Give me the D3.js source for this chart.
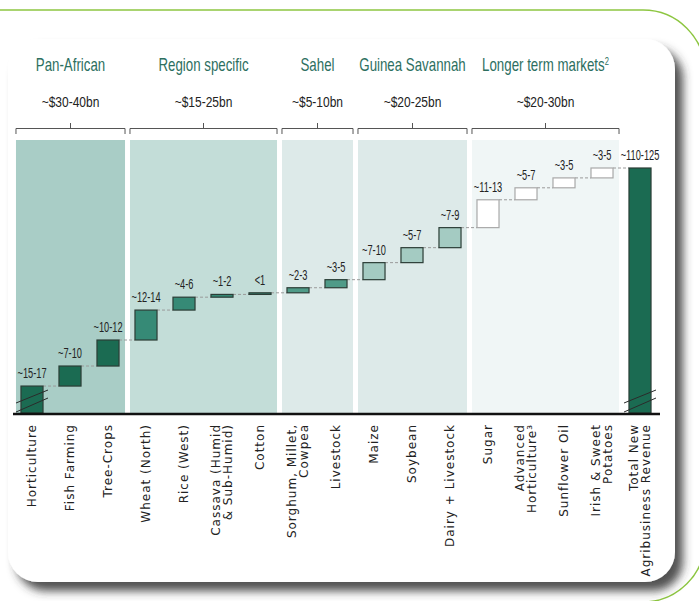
<!DOCTYPE html>
<html>
<head>
<meta charset="utf-8">
<script src="https://cdn.jsdelivr.net/npm/d3@7"></script>
<style>
body{margin:0;background:#fff;}
svg{display:block;}
</style>
</head>
<body>
<svg id="chart" width="699" height="601"></svg>
<script>
// categories, one entry per bar (multi-line labels split into lines)
var categories = [["Horticulture"],["Fish Farming"],["Tree-Crops"],["Wheat (North)"],["Rice (West)"],
  ["Cassava (Humid","& Sub-Humid)"],["Cotton"],["Sorghum, Millet,","Cowpea"],["Livestock"],["Maize"],["Soybean"],
  ["Dairy + Livestock"],["Sugar"],["Advanced","Horticulture³"],["Sunflower Oil"],["Irish & Sweet","Potatoes"],
  ["Total New","Agribusiness Revenue"]]

// increments of the waterfall ($bn); last bar is the total
var values = [16, 8.7, 11.3, 13, 5.6, 1.2, 0.7, 2.2, 3.5, 7.4, 6.5, 8.7, 12.1, 5.2, 4.3, 4.3]
var valueLabels = ["~15-17","~7-10","~10-12","~12-14","~4-6","~1-2","<1","~2-3","~3-5","~7-10","~5-7","~7-9",
  "~11-13","~5-7","~3-5","~3-5","~110-125"]
var axisBreakValue = 4.3   // axis is broken, the baseline sits at about this value

var groupNames = ["Pan-African","Region specific","Sahel","Guinea Savannah","Longer term markets"]
var groupTotals = ["~$30-40bn","~$15-25bn","~$5-10bn","~$20-25bn","~$20-30bn"]
var groupSizes = [3,4,2,3,4]

// styles per group
var panelFill = ["#a9cdc6","#c3ddd8","#ddeae9","#ddeae9","#f0f6f6"]
var barFill = ["#1b6b52","#368a76","#4f9b88","#a4cbc2","#ffffff"]
var barStroke = ["#2b3d36","#2b3d36","#2b3d36","#2b3d36","#a8a8a8"]

var svg = d3.select("#chart")
var baseY = 413

// running totals
var starts = [], ends = [], groupOf = []
var run = 0
values.forEach(function(v){ starts.push(run); run += v; ends.push(run) })
var total = run
groupSizes.forEach(function(n, g){ for (var k = 0; k < n; k++) groupOf.push(g) })

var x = d3.scaleBand().domain(d3.range(categories.length)).range([13, 659]).paddingInner(0.42).paddingOuter(0.21)
var y = d3.scaleLinear().domain([axisBreakValue, total]).range([baseY, 168])
var bw = x.bandwidth()

// shadow filter
var defs = svg.append("defs")
var f = defs.append("filter").attr("id","shadow").attr("x","-10%").attr("y","-10%").attr("width","130%").attr("height","130%")
f.append("feDropShadow").attr("dx",8).attr("dy",9).attr("stdDeviation",5).attr("flood-color","#333").attr("flood-opacity",0.85)

// green outline behind the card
svg.append("rect").attr("x",-100).attr("y",10).attr("width",805).attr("height",592).attr("rx",62)
  .style("fill","none").style("stroke","#8dc641").style("stroke-width",1.5)

// card
svg.append("rect").attr("x",8).attr("y",39).attr("width",667).attr("height",543).attr("rx",30)
  .style("fill","#fff").attr("filter","url(#shadow)")

// group extents
var groups = []
var idx = 0
groupSizes.forEach(function(n, g){
  groups.push({g: g, x0: x(idx) - 5, x1: x(idx + n - 1) + bw + 6})
  idx += n
})

svg.selectAll(".panel").data(groups).enter().append("rect")
  .attr("x", function(d){ return d.x0 })
  .attr("y", 140)
  .attr("width", function(d){ return d.x1 - d.x0 })
  .attr("height", baseY - 140)
  .style("fill", function(d){ return panelFill[d.g] })

// brackets
svg.selectAll(".bracket").data(groups).enter().append("path")
  .attr("d", function(d){
    var m = (d.x0 + d.x1) / 2
    return "M" + d.x0 + ",134V128.5H" + d.x1 + "V134M" + m + ",128.5V123"
  })
  .style("fill","none").style("stroke","#555").style("stroke-width",1)

function condensed(sel, cx, cy, size, sx, color){
  return sel.append("g").attr("transform","translate(" + cx + "," + cy + ") scale(" + sx + ",1)")
    .append("text").attr("text-anchor","middle")
    .style("font-family","Liberation Sans, Arial, sans-serif").style("font-size", size + "px").style("fill", color)
}

groups.forEach(function(d){
  var m = (d.x0 + d.x1) / 2
  var t = condensed(svg, m, 71, 17.5, 0.76, "#2d6f5f").text(groupNames[d.g])
  if (d.g == 4) t.append("tspan").attr("dy",-6).style("font-size","10px").text("2")
  condensed(svg, m, 107, 15, 0.8, "#222").text(groupTotals[d.g])
})

// connectors
var conn = d3.range(values.length)
svg.selectAll(".conn").data(conn).enter().append("line")
  .attr("x1", function(i){ return x(i) + bw })
  .attr("x2", function(i){ return x(i + 1) })
  .attr("y1", function(i){ return y(ends[i]) })
  .attr("y2", function(i){ return y(ends[i]) })
  .style("stroke","#9a9a9a").style("stroke-width",1).style("stroke-dasharray","3,2")

// bars
var bars = values.map(function(v, i){ return {i: i, g: groupOf[i], lo: Math.max(starts[i], axisBreakValue), hi: ends[i]} })
bars.push({i: values.length, g: -1, lo: axisBreakValue, hi: total})

svg.selectAll(".bar").data(bars).enter().append("rect")
  .attr("x", function(d){ return x(d.i) })
  .attr("y", function(d){ return y(d.hi) })
  .attr("width", bw)
  .attr("height", function(d){ return y(d.lo) - y(d.hi) })
  .style("fill", function(d){ return d.g < 0 ? "#1b6b52" : barFill[d.g] })
  .style("stroke", function(d){ return d.g < 0 ? "#2b3d36" : barStroke[d.g] })
  .style("stroke-width", 1.2)

// axis break marks on horticulture and total
;[0, values.length].forEach(function(i){
  var c = x(i) + bw / 2
  ;[[10, 23], [1, 15]].forEach(function(o){
    svg.append("line").attr("x1", c - 16).attr("y1", baseY - o[0]).attr("x2", c + 16).attr("y2", baseY - o[1])
      .style("stroke","#2b2b2b").style("stroke-width",1)
  })
})

// value labels
bars.forEach(function(d){
  condensed(svg, x(d.i) + bw / 2, y(d.hi) - 8, 14, 0.66, "#222").text(valueLabels[d.i])
})

// baseline
svg.append("line").attr("x1",13).attr("x2",660).attr("y1",baseY + 1).attr("y2",baseY + 1)
  .style("stroke","#111").style("stroke-width",2.5)

// category labels
svg.selectAll(".cat").data(categories).enter().append("text")
  .attr("transform", function(d, i){ return "translate(" + (x(i) + bw / 2) + ",424) rotate(-90)" })
  .attr("text-anchor","end")
  .style("font-family","DejaVu Sans, sans-serif").style("font-size","12px").style("letter-spacing","1px")
  .style("fill","#222")
  .each(function(d){
    var t = d3.select(this)
    d.forEach(function(line, j){
      t.append("tspan").attr("x",0).attr("y",(j - (d.length - 1) / 2) * 12.5).attr("dy","0.35em").text(line)
    })
  })
</script>
</body>
</html>
